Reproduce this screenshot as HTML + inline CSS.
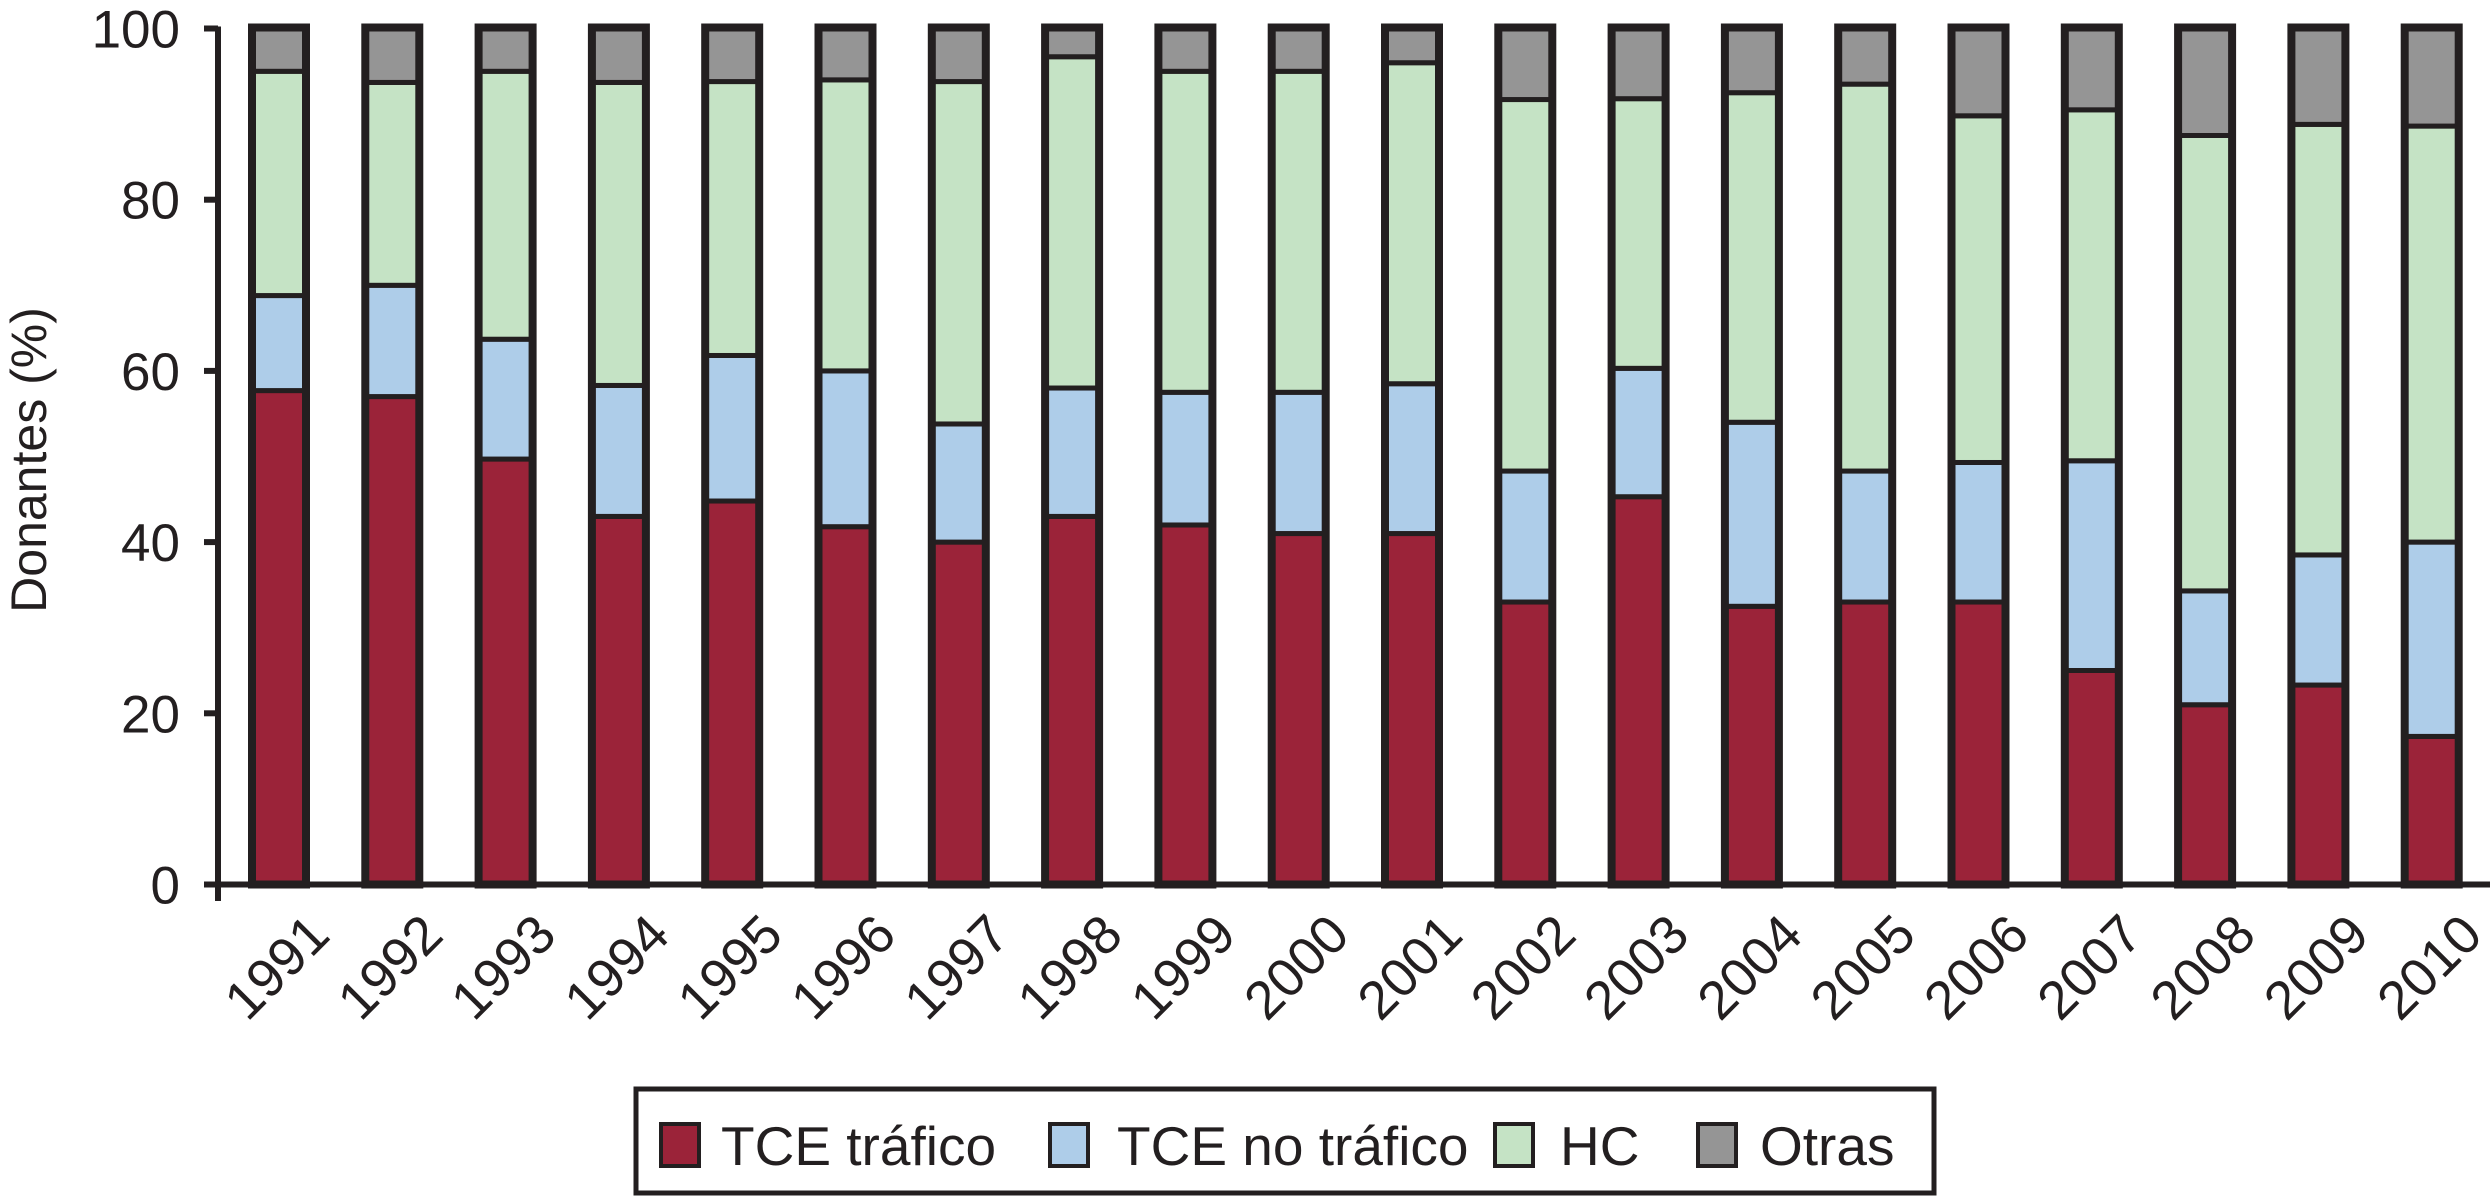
<!DOCTYPE html>
<html><head><meta charset="utf-8"><style>
html,body{margin:0;padding:0;background:#fff;}
svg{display:block;font-family:"Liberation Sans",Arial,sans-serif;}
</style></head><body>
<svg id="chart" width="2490" height="1196" viewBox="0 0 2490 1196" xmlns="http://www.w3.org/2000/svg">
<g id="bars"></g>
<g id="axes"></g>
<text transform="translate(46,460) rotate(-90)" text-anchor="middle" font-size="50" fill="#231f20">Donantes (%)</text>
<g>
<rect x="636" y="1089" width="1298" height="104" fill="#fff" stroke="#231f20" stroke-width="5"/>
<g><rect x="661" y="1124" width="38" height="42" fill="#9b2339" stroke="#231f20" stroke-width="4"/><text x="721" y="1165" font-size="55" fill="#231f20">TCE tráfico</text></g>
<g><rect x="1050" y="1124" width="38" height="42" fill="#aecde9" stroke="#231f20" stroke-width="4"/><text x="1117" y="1165" font-size="55" fill="#231f20">TCE no tráfico</text></g>
<g><rect x="1495" y="1124" width="38" height="42" fill="#c5e3c5" stroke="#231f20" stroke-width="4"/><text x="1560" y="1165" font-size="55" fill="#231f20">HC</text></g>
<g><rect x="1698" y="1124" width="38" height="42" fill="#959595" stroke="#231f20" stroke-width="4"/><text x="1760" y="1165" font-size="55" fill="#231f20">Otras</text></g>
</g>
</svg>
<script>
const years = ["1991","1992","1993","1994","1995","1996","1997","1998","1999","2000","2001","2002","2003","2004","2005","2006","2007","2008","2009","2010"];
const tceTrafico = [57.7,57,49.7,43,44.8,41.8,40,43,42,41,41,33,45.3,32.5,33,33,25,21,23.3,17.3];
const tceNoTrafico = [11.1,13,14,15.3,17,18.2,13.8,15,15.5,16.5,17.5,15.3,15,21.5,15.3,16.3,24.5,13.3,15.2,22.7];
const hc = [26.2,23.7,31.3,35.4,32,34,40,38.7,37.5,37.5,37.5,43.4,31.5,38.5,45.2,40.5,41,53.2,50.3,48.6];
const otras = [5,6.3,5,6.3,6.2,6,6.2,3.3,5,5,4,8.3,8.2,7.5,6.5,10.2,9.5,12.5,11.2,11.4];
const yTicks = [0,20,40,60,80,100];

const NS="http://www.w3.org/2000/svg";
const y0=884.5, y100=28.5, axisX=218, firstX=279, step=113.3, barW=52;
function yS(v){return y0-(y0-y100)*v/100;}
function xS(i){return firstX+i*step;}
const series=[tceTrafico,tceNoTrafico,hc,otras];
const colors=["#9b2339","#aecde9","#c5e3c5","#959595"];
const names=["tce-trafico","tce-no-trafico","hc","otras"];
const bars=document.getElementById('bars');
years.forEach((yr,i)=>{
  let cum=0;
  const g=document.createElementNS(NS,'g');
  
  
  series.forEach((s,k)=>{
    const a=cum,b=Math.min(100,cum+s[i]);cum+=s[i];
    const r=document.createElementNS(NS,'rect');
    
    
    r.setAttribute('x',xS(i)-barW/2);r.setAttribute('width',barW);
    r.setAttribute('y',yS(b));r.setAttribute('height',yS(a)-yS(b));
    r.setAttribute('fill',colors[k]);r.setAttribute('stroke','#231f20');r.setAttribute('stroke-width','5');
    g.appendChild(r);
  });
  const o=document.createElementNS(NS,'rect');
  
  
  o.setAttribute('x',xS(i)-barW/2-1);o.setAttribute('width',barW+2);
  o.setAttribute('y',yS(Math.min(100,cum))-1);o.setAttribute('height',yS(0)-yS(Math.min(100,cum))+1);
  o.setAttribute('fill','none');o.setAttribute('stroke','#231f20');o.setAttribute('stroke-width','8');
  g.appendChild(o);
  bars.appendChild(g);
  const t=document.createElementNS(NS,'text');
  
  
  const tx=xS(i)+26, ty=y0+26;
  t.setAttribute('transform','translate('+tx+','+ty+') rotate(-45)');
  t.setAttribute('text-anchor','end');t.setAttribute('font-size','54');t.setAttribute('fill','#231f20');
  t.setAttribute('dominant-baseline','hanging');
  t.textContent=yr;
  document.getElementById('axes').appendChild(t);
});
const axes=document.getElementById('axes');
function line(x1,y1,x2,y2,n){const l=document.createElementNS(NS,'line');
  
  
  l.setAttribute('x1',x1);l.setAttribute('y1',y1);l.setAttribute('x2',x2);l.setAttribute('y2',y2);
  l.setAttribute('stroke','#231f20');l.setAttribute('stroke-width','6');axes.appendChild(l);}
line(axisX,y100-2,axisX,901,'y-axis-line');
line(axisX-12,y0,2490,y0,'x-axis-line');
yTicks.forEach(v=>{
  line(axisX-14,yS(v),axisX,yS(v),'y-tick-'+v);
  const t=document.createElementNS(NS,'text');
  
  
  t.setAttribute('x',180);t.setAttribute('y',yS(v)+19);
  t.setAttribute('text-anchor','end');t.setAttribute('font-size','53');t.setAttribute('fill','#231f20');
  t.textContent=v;axes.appendChild(t);
});
</script>
</body></html>
